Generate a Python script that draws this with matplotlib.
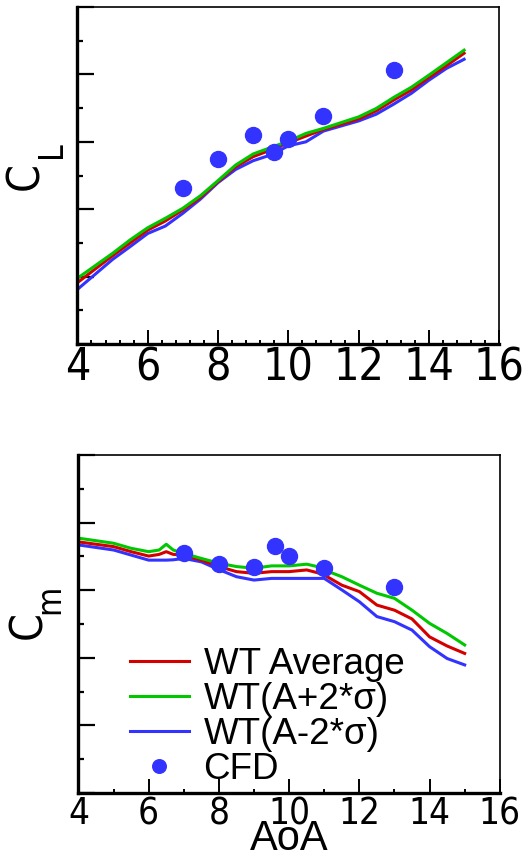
import matplotlib
matplotlib.use("Agg")
import matplotlib.pyplot as plt
from matplotlib.ticker import MultipleLocator
from matplotlib import font_manager as fm

# ---------------- data ----------------
aoa_cl = [4, 5, 5.5, 6, 6.5, 7, 7.5, 8, 8.5, 9, 9.5, 10, 10.5, 11, 11.5, 12, 12.5, 13, 13.5, 14, 14.5, 15]
cl_avg = [0.182, 0.262, 0.300, 0.338, 0.365, 0.398, 0.435, 0.482, 0.526, 0.556, 0.576, 0.597, 0.617, 0.637,
          0.652, 0.668, 0.692, 0.724, 0.754, 0.791, 0.826, 0.863]
cl_plus = [0.195, 0.269, 0.309, 0.345, 0.373, 0.403, 0.440, 0.485, 0.531, 0.564, 0.583, 0.602, 0.625, 0.640,
           0.657, 0.674, 0.699, 0.732, 0.762, 0.798, 0.835, 0.872]
cl_minus = [0.162, 0.251, 0.289, 0.328, 0.350, 0.388, 0.430, 0.479, 0.518, 0.544, 0.561, 0.588, 0.600, 0.632,
            0.647, 0.662, 0.682, 0.712, 0.744, 0.783, 0.818, 0.845]

aoa_cm = [4, 5, 5.5, 6, 6.3, 6.5, 6.7, 7, 7.5, 8, 8.5, 9, 9.5, 10, 10.5, 10.8, 11, 11.5, 12, 12.5, 13, 13.5,
          14, 14.5, 15]
cm_avg = [0.743, 0.729, 0.714, 0.701, 0.706, 0.714, 0.706, 0.704, 0.689, 0.670, 0.655, 0.650, 0.655, 0.655,
          0.660, 0.652, 0.645, 0.615, 0.596, 0.556, 0.541, 0.515, 0.462, 0.435, 0.413]
cm_plus = [0.754, 0.739, 0.724, 0.714, 0.719, 0.736, 0.719, 0.709, 0.694, 0.680, 0.670, 0.665, 0.672, 0.672,
           0.677, 0.670, 0.660, 0.640, 0.615, 0.591, 0.576, 0.541, 0.502, 0.472, 0.438]
cm_minus = [0.734, 0.719, 0.704, 0.689, 0.689, 0.689, 0.690, 0.694, 0.684, 0.661, 0.640, 0.630, 0.635, 0.635,
            0.635, 0.635, 0.635, 0.601, 0.566, 0.522, 0.507, 0.482, 0.433, 0.398, 0.379]

aoa_cfd = [7, 8, 9, 9.6, 10, 11, 13]
cl_cfd = [0.462, 0.548, 0.620, 0.571, 0.607, 0.677, 0.813]
cm_cfd = [0.709, 0.678, 0.670, 0.731, 0.701, 0.665, 0.610]

labels = ["WT Average", "WT(A+2*σ)", "WT(A-2*σ)", "CFD"]
xticks = [4, 6, 8, 10, 12, 14, 16]

# ---------------- style ----------------
RED = "#d40000"
GREEN = "#00c800"
BLUE = "#3333ff"
REG = ["Liberation Sans", "DejaVu Sans"]

# look for a condensed / narrow sans font; fall back to Liberation Sans
narrow_path = None
for fe in fm.fontManager.ttflist:
    nm = fe.name.lower()
    fn = fe.fname.lower()
    if fe.weight in (400, "normal", "regular") and fe.style == "normal" and (
            "narrow" in nm or "condensed" in nm or "narrow" in fn or "condensed" in fn
            or str(fe.stretch) in ("condensed", "semi-condensed", "extra-condensed")):
        if "mono" in fn or "serif" in fn and "sans" not in fn:
            continue
        if "bold" in fn or "italic" in fn or "oblique" in fn:
            continue
        narrow_path = fe.fname
        break

if narrow_path:
    TICKFP1 = fm.FontProperties(fname=narrow_path, size=32)
    TICKFP2 = fm.FontProperties(fname=narrow_path, size=26.5)
    LABFP = fm.FontProperties(fname=narrow_path, size=32)
    SUBFP = fm.FontProperties(fname=narrow_path, size=24)
else:
    TICKFP1 = fm.FontProperties(family=REG, size=27.5)
    TICKFP2 = fm.FontProperties(family=REG, size=23)
    LABFP = fm.FontProperties(family=REG, size=30)
    SUBFP = fm.FontProperties(family=REG, size=23)

fig = plt.figure(figsize=(5.30, 8.59), dpi=100)
ax1 = fig.add_axes([0.146, 0.5995, 0.796, 0.3923])
ax2 = fig.add_axes([0.148, 0.0768, 0.795, 0.3935])


def style(ax, minor_x, tickfp):
    ax.set_xlim(4, 16)
    ax.set_ylim(0, 1)
    ax.set_xticks(xticks)
    ax.xaxis.set_minor_locator(MultipleLocator(minor_x))
    ax.yaxis.set_major_locator(MultipleLocator(0.2))
    ax.yaxis.set_minor_locator(MultipleLocator(0.1))
    ax.tick_params(axis="both", which="both", direction="in", top=False, right=False, color="black")
    ax.tick_params(axis="y", which="major", length=12.5, width=1.6, labelleft=False)
    ax.tick_params(axis="y", which="minor", length=4.5, width=1.6)
    ax.tick_params(axis="x", which="major", length=10, width=1.4, pad=1.5)
    ax.tick_params(axis="x", which="minor", length=3, width=1.4)
    for lab in ax.get_xticklabels():
        lab.set_fontproperties(tickfp)
    for s in ("left", "bottom"):
        ax.spines[s].set_linewidth(2.4)
    for s in ("top", "right"):
        ax.spines[s].set_linewidth(1.2)


style(ax1, 0.4, TICKFP1)
style(ax2, 1.0, TICKFP2)

lw = 2.2
ax1.plot(aoa_cl, cl_minus, color=BLUE, lw=lw)
ax1.plot(aoa_cl, cl_avg, color=RED, lw=lw)
ax1.plot(aoa_cl, cl_plus, color=GREEN, lw=lw)
ax1.plot(aoa_cfd, cl_cfd, "o", color=BLUE, ms=11.5, mec=BLUE)

l_minus, = ax2.plot(aoa_cm, cm_minus, color=BLUE, lw=lw)
l_avg, = ax2.plot(aoa_cm, cm_avg, color=RED, lw=lw)
l_plus, = ax2.plot(aoa_cm, cm_plus, color=GREEN, lw=lw)
l_cfd, = ax2.plot(aoa_cfd, cm_cfd, "o", color=BLUE, ms=11.5, mec=BLUE)

# y labels: C with subscript, placed in figure pixels
W, H = 530.0, 859.0
fig.text(26 / W, 1 - 176 / H, "C", fontproperties=LABFP, rotation=90, ha="center", va="center")
fig.text(51 / W, 1 - 150 / H, "L", fontproperties=SUBFP, rotation=90, ha="center", va="center")
fig.text(29 / W, 1 - 625 / H, "C", fontproperties=LABFP, rotation=90, ha="center", va="center")
fig.text(50 / W, 1 - 599 / H, "m", fontproperties=SUBFP, rotation=90, ha="center", va="center")

ax2.set_xlabel("AoA", family=REG, fontsize=30)
ax2.xaxis.set_label_coords(0.5, (793 - 850) / 338.0)
ax2.xaxis.label.set_va("baseline")

leg = ax2.legend([l_avg, l_plus, l_minus, l_cfd], labels,
                 loc="upper left", bbox_to_anchor=(130 / W, 1 - 647 / H),
                 bbox_transform=fig.transFigure, frameon=False, borderpad=0,
                 borderaxespad=0, handlelength=1.6, handletextpad=0.4,
                 labelspacing=0.0, markerscale=0.85,
                 prop={"family": REG, "size": 26.5})

fig.savefig("out.png", dpi=100)
